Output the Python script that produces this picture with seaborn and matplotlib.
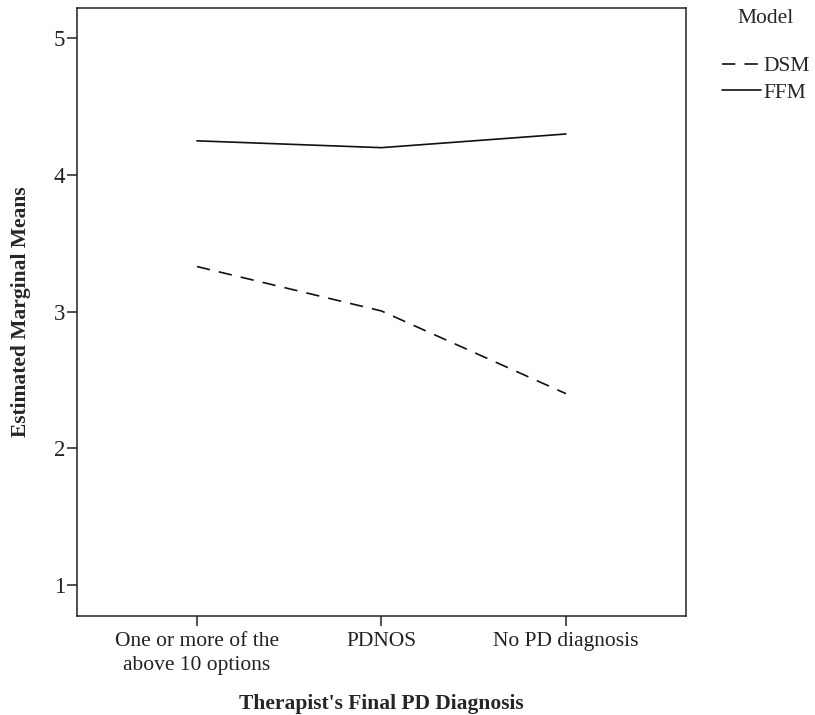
import numpy as np
import pandas as pd
import matplotlib
matplotlib.use("Agg")
import matplotlib.pyplot as plt
import seaborn as sns

diagnoses = ["One or more of the\nabove 10 options", "PDNOS", "No PD diagnosis"]
dsm_means = [3.33, 3.005, 2.40]
ffm_means = [4.25, 4.20, 4.30]
models = ["DSM", "FFM"]

df = pd.DataFrame({
    "diag": diagnoses * 2,
    "pos": list(range(len(diagnoses))) * 2,
    "mean": dsm_means + ffm_means,
    "Model": [models[0]] * 3 + [models[1]] * 3,
})

sns.set_style("ticks")
plt.rcParams["font.family"] = ["Liberation Serif", "DejaVu Serif"]

fig = plt.figure(figsize=(8.15, 7.15), dpi=100)
ax = fig.add_axes([0.0945, 0.1385, 0.747, 0.8505])

sns.lineplot(data=df, x="pos", y="mean", style="Model", style_order=models,
             dashes={"DSM": (8, 5.5), "FFM": ""}, color="#111111", linewidth=1.2,
             ax=ax, legend=True)

fs = 15.5
ax.set_xlim(-0.65, 2.65)
ax.set_ylim(0.773, 5.223)
ax.set_xticks(range(len(diagnoses)))
ax.set_xticklabels(diagnoses, fontsize=fs, color="#222222", linespacing=1.35)
ax.set_yticks([1, 2, 3, 4, 5])
ax.set_yticklabels(["1", "2", "3", "4", "5"], fontsize=fs + 1, color="#222222")
ax.tick_params(axis="both", direction="out", length=7.5, width=1.1, color="#222222")
ax.tick_params(axis="x", pad=4)
ax.tick_params(axis="y", pad=1)
for sp in ax.spines.values():
    sp.set_visible(True)
    sp.set_linewidth(1.1)
    sp.set_color("#222222")

ax.set_xlabel("Therapist's Final PD Diagnosis", fontsize=fs, fontweight="bold", labelpad=14)
ax.set_ylabel("Estimated Marginal Means", fontsize=fs, fontweight="bold", labelpad=16)

handles, labels = ax.get_legend_handles_labels()
ax.get_legend().remove()
leg = fig.legend(handles, labels, title="Model", loc="upper left",
                 bbox_to_anchor=(0.886, 0.987), frameon=False, fontsize=fs,
                 title_fontsize=fs, handlelength=1.8, handletextpad=0.1,
                 labelspacing=0.3, borderaxespad=0.0, borderpad=0.0)
leg._legend_box.sep = 20

fig.savefig("out.png", dpi=100)
